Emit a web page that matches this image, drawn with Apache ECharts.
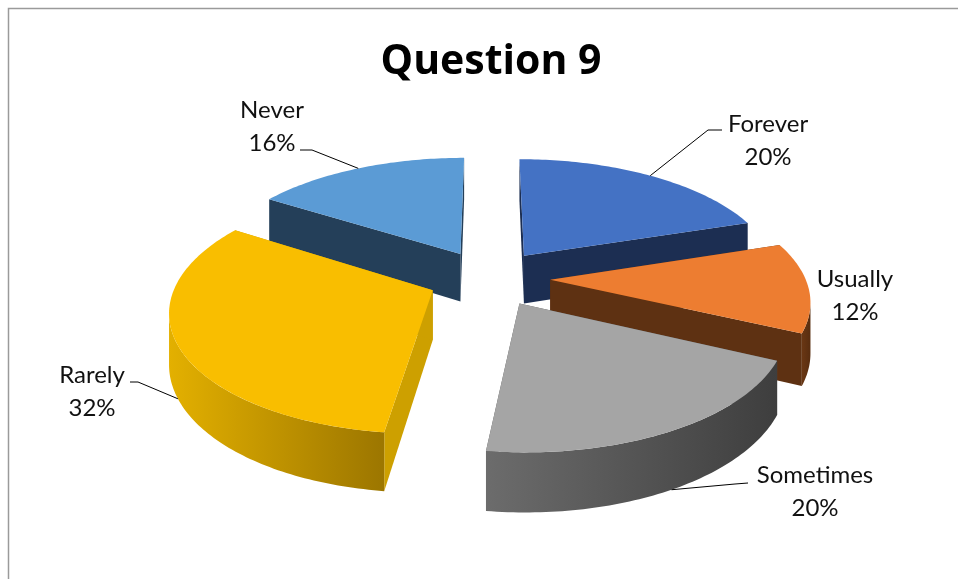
<!DOCTYPE html>
<html><head><meta charset="utf-8">
<script src="https://cdn.jsdelivr.net/npm/echarts@6/dist/echarts.min.js"></script>
<style>html,body{margin:0;padding:0;background:#fff}#c{width:958px;height:579px}</style>
</head><body><div id="c"></div>
<script>
// ---- data ----
const titleText = 'Question 9';
const categories = ['Forever', 'Usually', 'Sometimes', 'Rarely', 'Never'];
const values = [20, 12, 20, 32, 16];

// ---- styles ----
const topColors  = ['#4472C4', '#ED7D31', '#A5A5A5', '#F9BE00', '#5B9BD5'];
const sideColors = ['#1C2E52', '#5E3112', '#555555', '#CDA000', '#243F59'];
const wallColors = [['#27406f', '#1a2a4b'], ['#6a3714', '#582d0f'], ['#6C6C6C', '#3E3E3E'], ['#E3B000', '#9C7600'], ['#2f5480', '#20384f']];
// label layout (two-line block centre) and leader-line start/bend
const labelPos = [[768, 140.5], [855, 295.5], [815, 491.5], [92, 391.5], [272, 126.5]];
const leaderStart = [[[722, 130], [708, 130]], null, [[748, 483], [735, 484]], [[130, 382], [138, 382]], [[300, 150], [312, 150]]];

// ---- 3D pie geometry ----
const G = { cx: 489, cy: 278, R: 255, K: 0.461, D: 1676, H: 49, E: 0.24 };
const total = values.reduce((a, b) => a + b, 0);

function sliceInfo(i) {
  let cum = 0;
  for (let j = 0; j < i; j++) cum += values[j];
  const a1 = cum / total * Math.PI * 2;
  const a2 = (cum + values[i]) / total * Math.PI * 2;
  const mid = (a1 + a2) / 2;
  return { a1, a2, mid, ox: G.E * G.R * Math.sin(mid), oz: G.E * G.R * Math.cos(mid) };
}
const depthOrder = values.map((v, i) => [i, sliceInfo(i).oz]).sort((a, b) => b[1] - a[1]).map(d => d[0]);

function renderItem(params, api) {
  const i = params.dataIndex;
  const v = api.value(0);
  const info = sliceInfo(i);
  const { a1, a2, mid, ox, oz } = info;
  const rank = depthOrder.indexOf(i);
  function P(th, r, y) {
    const X = ox + r * Math.sin(th), Z = oz + r * Math.cos(th);
    const s = G.D / (G.D + Z);
    return [G.cx + X * s, G.cy + (-G.K * Z + y) * s];
  }
  function arc(t1, t2, y) {
    const pts = [];
    const n = Math.max(2, Math.ceil((t2 - t1) / (Math.PI / 180)));
    for (let k = 0; k <= n; k++) pts.push(P(t1 + (t2 - t1) * k / n, G.R, y));
    return pts;
  }
  const children = [];
  // cut faces
  [a1, a2].forEach(a => {
    children.push({ type: 'polygon', z2: rank * 10 + 1,
      shape: { points: [P(a, 0, 0), P(a, G.R, 0), P(a, G.R, G.H), P(a, 0, G.H)] },
      style: { fill: sideColors[i] } });
  });
  // visible outer wall
  const A = G.D + oz, B = ox;
  const rho = Math.sqrt(A * A + B * B), phi = Math.atan2(B, A);
  const d = Math.acos(-G.R / rho);
  const lo = Math.max(a1, phi + d), hi = Math.min(a2, phi + 2 * Math.PI - d);
  if (hi > lo) {
    const topArc = arc(lo, hi, 0);
    const botArc = arc(lo, hi, G.H).reverse();
    children.push({ type: 'polygon', z2: rank * 10 + 2,
      shape: { points: topArc.concat(botArc) },
      style: { fill: { type: 'linear', x: 0, y: 0, x2: 1, y2: 0,
        colorStops: [{ offset: 0, color: wallColors[i][0] }, { offset: 1, color: wallColors[i][1] }] } } });
  }
  // top face
  children.push({ type: 'polygon', z2: rank * 10 + 3,
    shape: { points: [P(a1, 0, 0)].concat(arc(a1, a2, 0)) },
    style: { fill: topColors[i] } });
  // label
  const pct = Math.round(v / total * 100);
  children.push({ type: 'text', z2: 200, x: labelPos[i][0], y: labelPos[i][1],
    style: { text: categories[i] + '\n' + pct + '%', fill: '#111', fontSize: 24, fontFamily: 'Lato',
      align: 'center', verticalAlign: 'middle', lineHeight: 33 } });
  if (leaderStart[i]) {
    const fm = A * Math.cos(mid) + B * Math.sin(mid) + G.R;
    const anchor = fm < 0 ? P(mid, G.R, G.H) : P(mid, G.R, 0);
    children.push({ type: 'polyline', z2: 190,
      shape: { points: [leaderStart[i][0], leaderStart[i][1], anchor] },
      style: { stroke: '#000', lineWidth: 1, fill: null } });
  }
  return { type: 'group', children };
}

const chart = echarts.init(document.getElementById('c'), null, { renderer: 'canvas' });
chart.setOption({
  animation: false,
  backgroundColor: '#fff',
  graphic: [
    { type: 'rect', z: -10, shape: { x: 8.5, y: 8.5, width: 1000, height: 700 },
      style: { fill: 'transparent', stroke: '#9a9a9a', lineWidth: 1.5 } },
    { type: 'text', x: 491, y: 62, style: { text: titleText, fill: '#000', fontSize: 41, fontWeight: 'bold',
      fontFamily: 'Open Sans', align: 'center', verticalAlign: 'middle' } }
  ],
  series: [{
    type: 'custom',
    coordinateSystem: 'none',
    silent: true,
    renderItem: renderItem,
    data: values.map((v, i) => ({ name: categories[i], value: [v] }))
  }]
});
</script>
</body></html>
